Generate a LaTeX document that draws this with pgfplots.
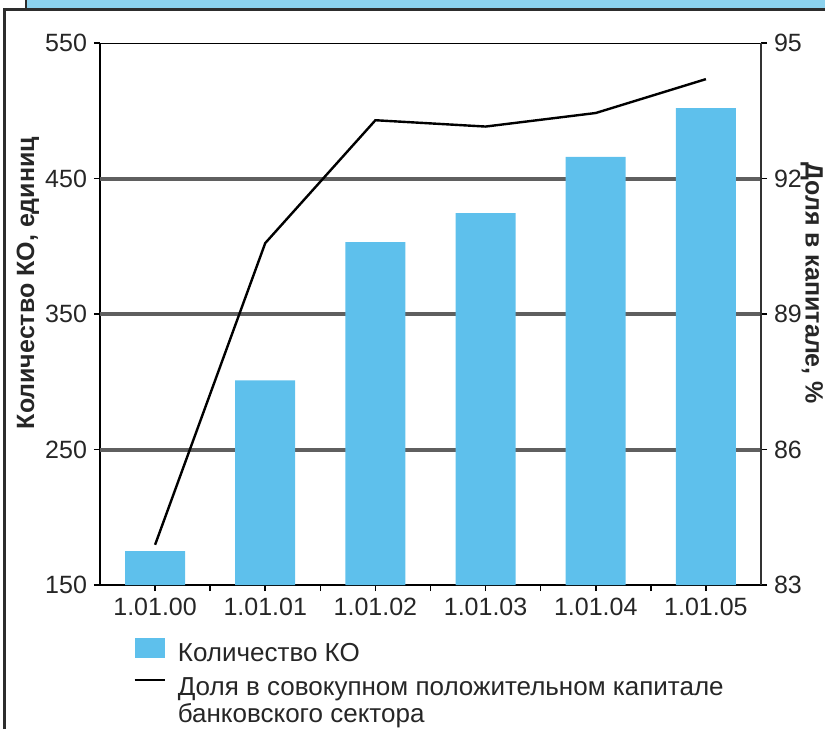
\documentclass[border=0pt]{standalone}
\usepackage{fontspec}
\setmainfont{Liberation Sans}
\usepackage{pgfplots}
\pgfplotsset{compat=1.18}
\definecolor{barcol}{RGB}{94,192,236}
\definecolor{bandcol}{RGB}{140,210,238}
\definecolor{gridcol}{RGB}{95,95,95}
\definecolor{framecol}{RGB}{45,45,45}
\begin{document}
\begin{tikzpicture}
\useasboundingbox (0,0) rectangle (412.5pt,364.5pt);
% frame pieces of the cropped panel
\fill[bandcol] (13pt,359.5pt) rectangle (412.5pt,364.5pt);
\draw[framecol, line width=1.2pt] (13pt,364.5pt) -- (13pt,359.5pt);
\draw[framecol, line width=1.5pt] (2pt,0pt) -- (2pt,359.5pt) -- (412.5pt,359.5pt);
\begin{axis}[
  scale only axis, width=330.5pt, height=271pt,
  at={(50pt,72pt)}, anchor=south west,
  xmin=-0.5, xmax=5.5, ymin=150, ymax=550,
  xtick={0,1,2,3,4,5},
  xticklabels={1.01.00,1.01.01,1.01.02,1.01.03,1.01.04,1.01.05},
  x tick label style={major tick length=0pt},
  extra x ticks={0.5,1.5,2.5,3.5,4.5},
  extra x tick labels={},
  extra x tick style={major tick length=3pt, tick align=outside},
  ytick={150,250,350,450,550},
  extra y ticks={250,350,450},
  extra y tick labels={},
  extra y tick style={grid=major, major grid style={gridcol, line width=2pt}, major tick length=0pt},
  xtick pos=bottom, ytick pos=left,
  tick align=outside, major tick length=3pt,
  tick style={black, line width=0.8pt},
  axis line style={black, line width=1pt},
  axis x line*=bottom, axis y line*=left,
  /pgf/number format/assume math mode=true,
  tick label style={font=\fontsize{12.5}{14}\selectfont, text=black!85},
  ylabel={Количество КО, единиц},
  ylabel style={font=\fontsize{12.5}{14}\selectfont\bfseries, text=black!85,
    at={(axis description cs:-0.109,0.557)}, anchor=center},
  legend style={draw=none, fill=none, at={(0.05,-0.097)}, anchor=north west,
    font=\fontsize{13}{12.5}\selectfont, text=black!85, row sep=2.5pt,
    legend cell align=left, inner sep=0pt},
]
\addplot[ybar, bar width=30pt, fill=barcol, draw=none,
  legend image code/.code={\fill[barcol] (0pt,-2pt) rectangle (15pt,8pt); \path (19pt,3pt);}]
  coordinates {(0,175) (1,301) (2,403) (3,424.5) (4,466) (5,502)};
\addlegendentry{Количество КО}
\addlegendimage{black, line width=1.2pt, legend image code/.code={\draw[black, line width=1.2pt] (0pt,4pt) -- (15pt,4pt); \path (19pt,4pt);}}
\addlegendentry{\begin{tabular}[t]{@{}l@{}}Доля в совокупном положительном капитале\\банковского сектора\end{tabular}}
\draw[black, line width=1pt] (rel axis cs:0,1) -- (rel axis cs:1,1);
\end{axis}
\begin{axis}[
  scale only axis, width=330.5pt, height=271pt,
  at={(50pt,72pt)}, anchor=south west,
  xmin=-0.5, xmax=5.5, ymin=83, ymax=95,
  axis x line=none, axis y line*=right,
  ytick={83,86,89,92,95},
  tick align=outside, major tick length=3pt,
  tick style={black, line width=0.8pt},
  axis line style={black!80, line width=1.4pt},
  /pgf/number format/assume math mode=true,
  tick label style={font=\fontsize{12.5}{14}\selectfont, text=black!85},
  ylabel={Доля в капитале, \%},
  ylabel style={font=\fontsize{12.5}{14}\selectfont\bfseries, text=black!85,
    at={(axis description cs:1.077,0.557)}, anchor=center, rotate=180},
]
\addplot[black, line width=1.2pt] coordinates {(0,83.89) (1,90.57) (2,93.29) (3,93.15) (4,93.45) (5,94.2)};
\end{axis}
\end{tikzpicture}
\end{document}
